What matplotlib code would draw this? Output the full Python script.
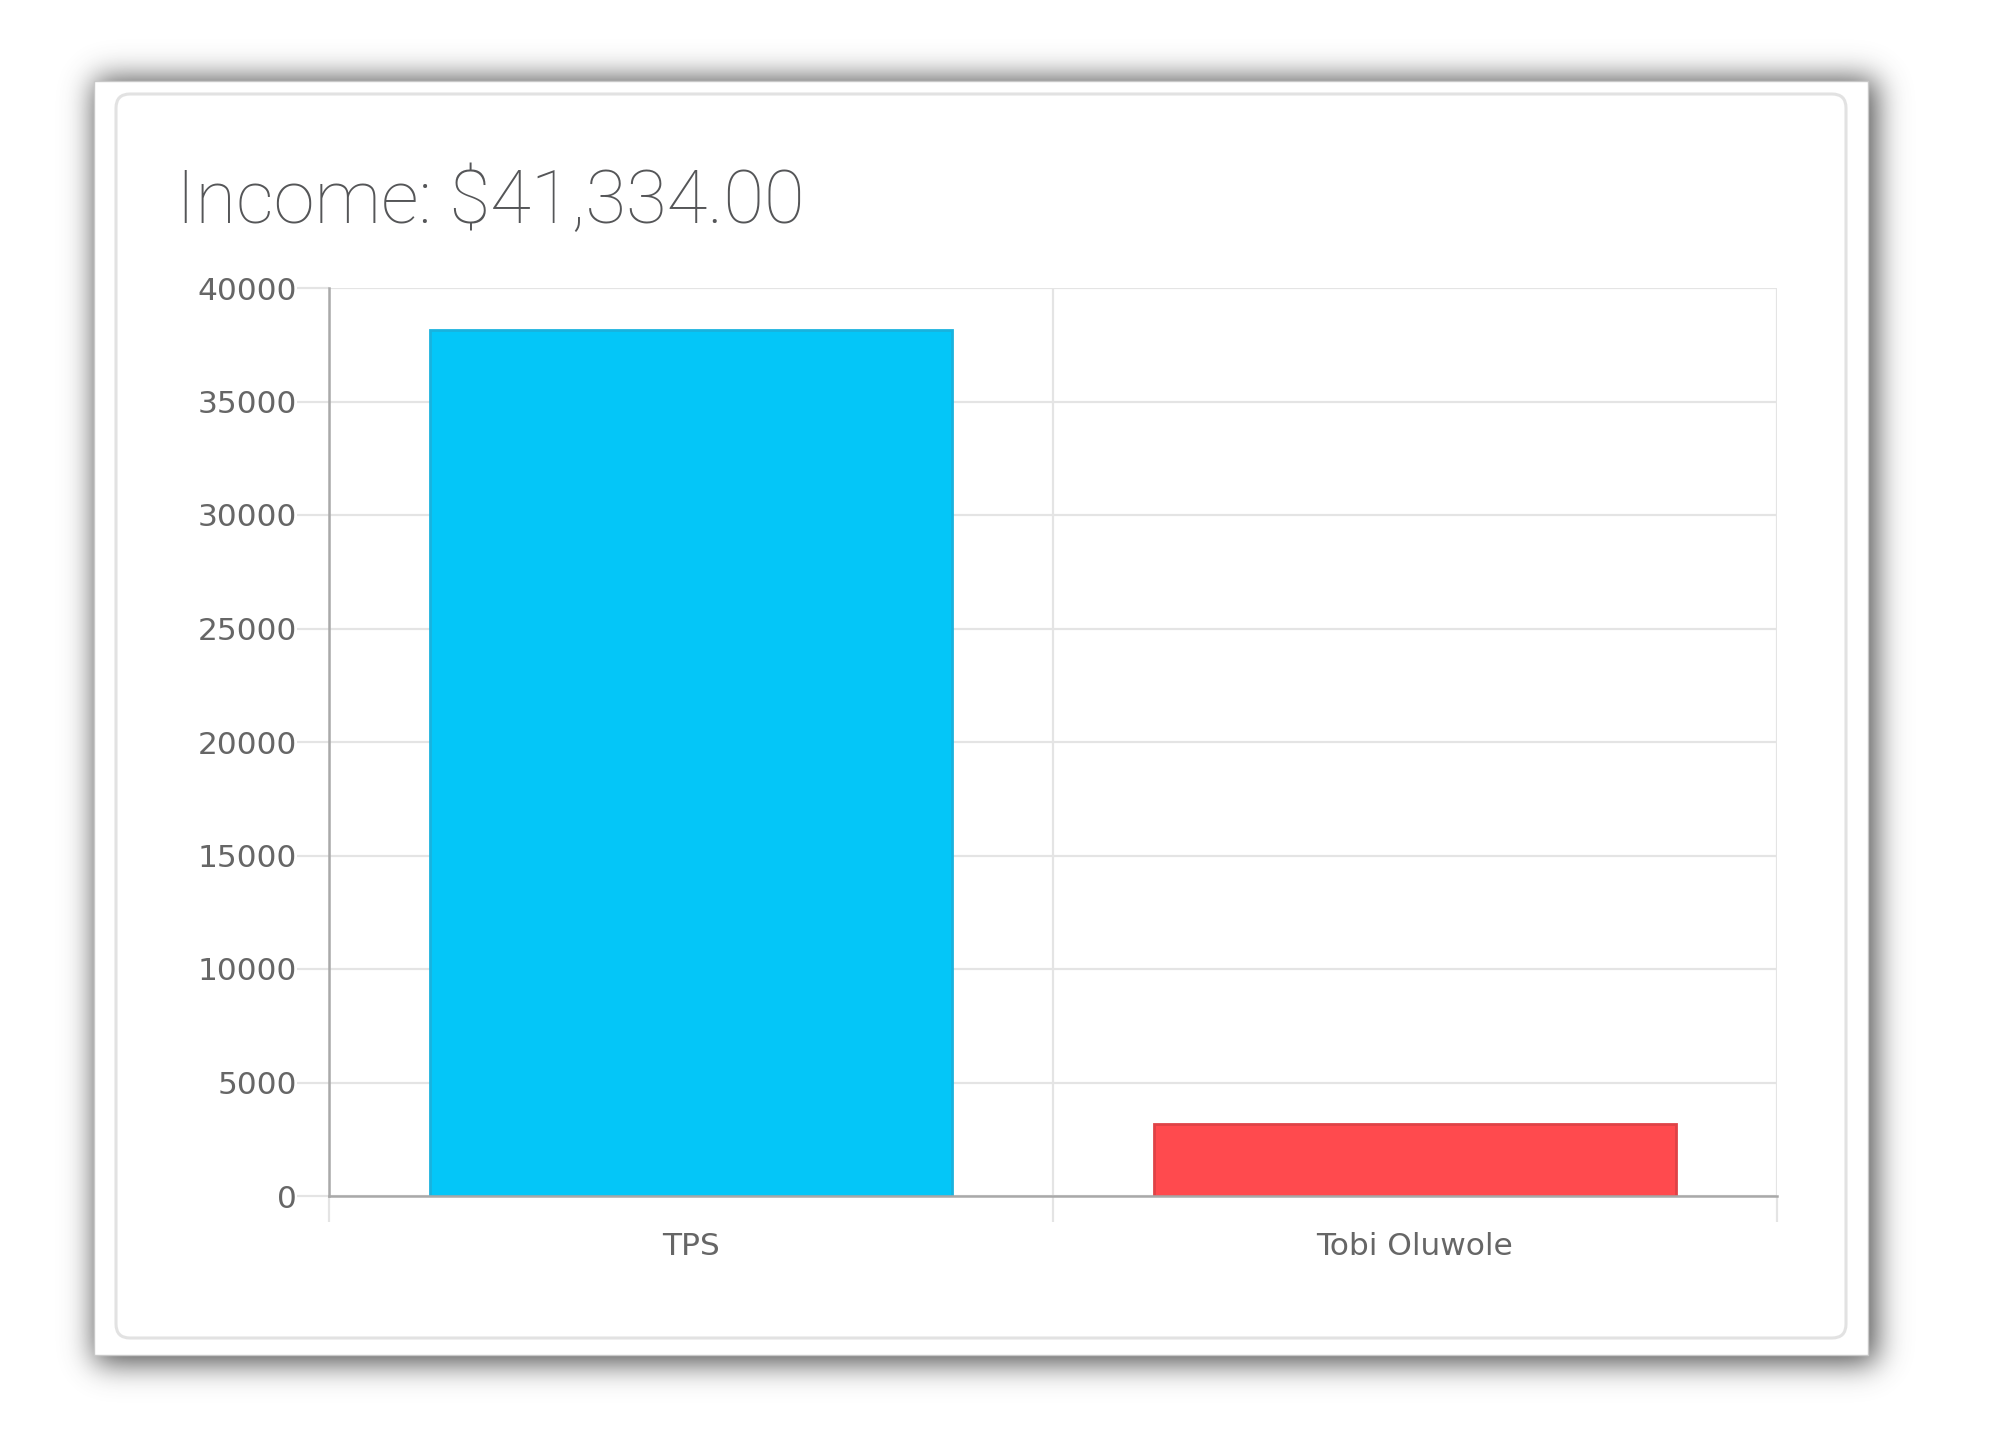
import math
import numpy as np
import matplotlib
matplotlib.use("Agg")
import matplotlib.pyplot as plt
from matplotlib.patches import Rectangle, FancyBboxPatch

# data
names = ["TPS", "Tobi Oluwole"]
income = [38162, 3172]
bar_colors = ["#04c6f8", "#ff4a4e"]
edge_colors = ["#19b2de", "#df4246"]
yticks = [0, 5000, 10000, 15000, 20000, 25000, 30000, 35000, 40000]
title = "Income: $41,334.00"

W, H = 2015, 1440
fig = plt.figure(figsize=(W / 100, H / 100), dpi=100)
fig.patch.set_facecolor("white")

# background: card with soft drop shadow
bg = fig.add_axes([0, 0, 1, 1])
bg.set_xlim(0, W)
bg.set_ylim(H, 0)
bg.axis("off")

cx0, cy0, cx1, cy1 = 94, 81, 1868, 1355
s = 15.0
erf = np.vectorize(math.erf)
xs = np.arange(W) + 0.5
ys = np.arange(H) + 0.5
fx = 0.5 * (erf((xs - (cx0 + 1)) / (s * 1.414)) - erf((xs - (cx1 + 8)) / (s * 1.414)))
fy = 0.5 * (erf((ys - (cy0 - 2)) / (s * 1.414)) - erf((ys - (cy1 + 8)) / (s * 1.414)))
shade = np.outer(fy, fx)
rgba = np.zeros((H, W, 4))
rgba[..., :3] = 0.3
rgba[..., 3] = 1.0 * shade
bg.imshow(rgba, extent=(0, W, H, 0), interpolation="bilinear", zorder=0)
bg.add_patch(Rectangle((cx0, cy0), cx1 - cx0, cy1 - cy0, facecolor="white",
                       edgecolor="#c8c8c8", linewidth=1.0, zorder=1))
bg.add_patch(FancyBboxPatch((116, 94), 1730, 1244,
                            boxstyle="round,pad=0,rounding_size=14",
                            facecolor="white", edgecolor="#e2e2e2",
                            linewidth=2.2, zorder=2))

fig.text(176 / W, 1 - 223 / H, title, fontsize=53.5, color="#555658",
         family="Roboto", weight="light", va="baseline", ha="left")

# chart
ax = fig.add_axes([329 / W, 1 - 1196 / H, (1777 - 329) / W, (1196 - 288) / H])
ax.set_facecolor("none")
x = np.arange(len(names))
ax.bar(x, income, width=0.72, color=bar_colors, edgecolor=edge_colors,
       linewidth=2.0, zorder=3)

ax.set_xlim(-0.5, len(names) - 0.5)
ax.set_ylim(0, 40000)
ax.set_yticks(yticks)
ax.set_yticklabels([str(v) for v in yticks])
ax.set_xticks(x)
ax.set_xticklabels(names)
ax.set_xticks(np.arange(len(names) + 1) - 0.5, minor=True)

ax.grid(axis="y", which="major", color="#e4e4e4", linewidth=1.6, zorder=0)
ax.grid(axis="x", which="minor", color="#e4e4e4", linewidth=1.6, zorder=0)

for sp in ["top", "right"]:
    ax.spines[sp].set_visible(False)
for sp in ["left", "bottom"]:
    ax.spines[sp].set_color("#a9a9a9")
    ax.spines[sp].set_linewidth(1.8)
    ax.spines[sp].set_zorder(4)

ax.tick_params(axis="y", length=23, width=1.6, color="#e4e4e4", pad=0,
               labelsize=22.5, labelcolor="#666666")
ax.tick_params(axis="x", which="major", length=0, pad=26,
               labelsize=22.5, labelcolor="#666666")
ax.tick_params(axis="x", which="minor", length=19, width=1.6, color="#e4e4e4")
for lab in ax.get_xticklabels() + ax.get_yticklabels():
    lab.set_family("DejaVu Sans")
# left boundary tick matches the axis colour
ax.xaxis.get_minor_ticks()[0].tick1line.set_color("#a9a9a9")

fig.savefig("out.png", dpi=100, facecolor="white")
